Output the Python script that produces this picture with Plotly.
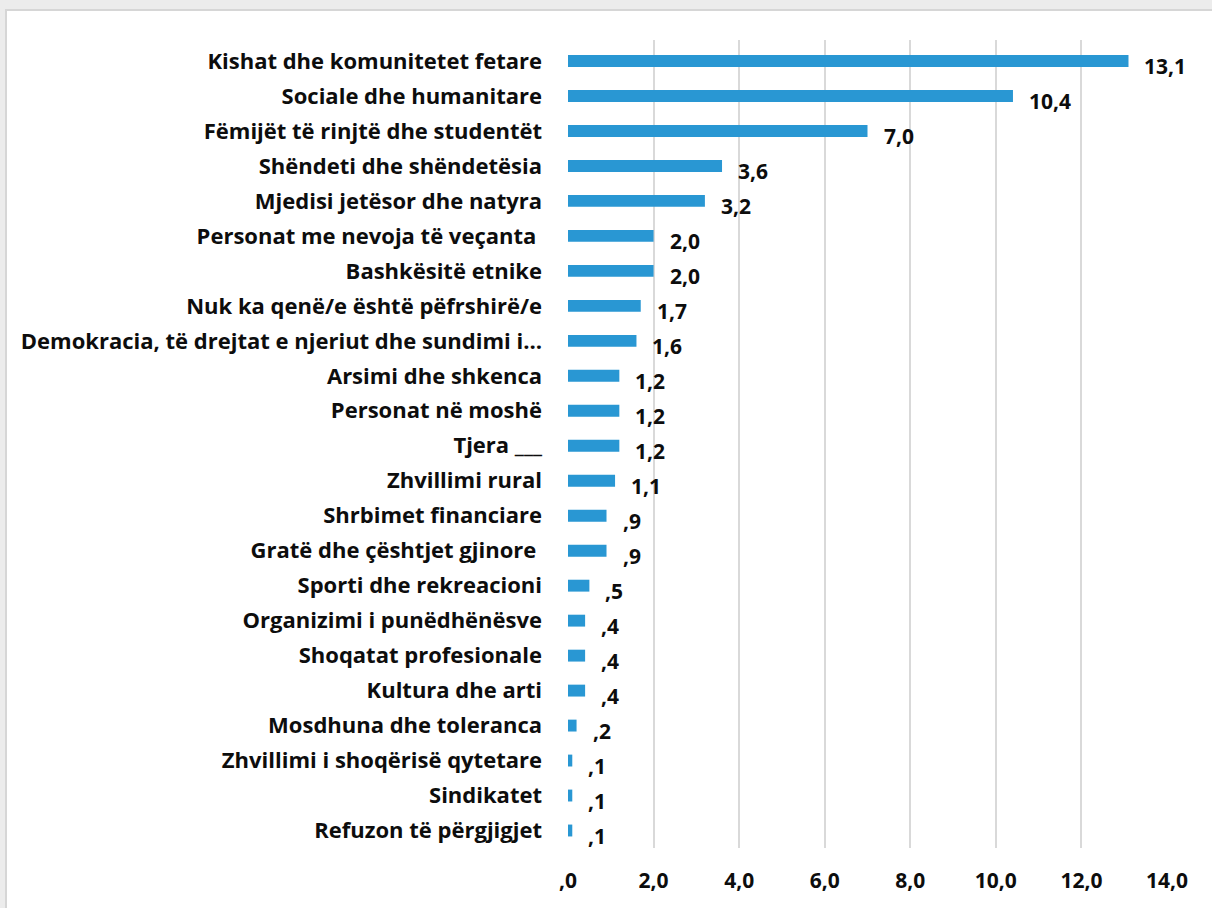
import plotly.graph_objects as go

categories = [
    "Kishat dhe komunitetet fetare",
    "Sociale dhe humanitare",
    "Fëmijët të rinjtë dhe studentët",
    "Shëndeti dhe shëndetësia",
    "Mjedisi jetësor dhe natyra",
    "Personat me nevoja të veçanta ",
    "Bashkësitë etnike",
    "Nuk ka qenë/e është pëfrshirë/e",
    "Demokracia, të drejtat e njeriut dhe sundimi i…",
    "Arsimi dhe shkenca",
    "Personat në moshë",
    "Tjera ___",
    "Zhvillimi rural",
    "Shrbimet financiare",
    "Gratë dhe çështjet gjinore ",
    "Sporti dhe rekreacioni",
    "Organizimi i punëdhënësve",
    "Shoqatat profesionale",
    "Kultura dhe arti",
    "Mosdhuna dhe toleranca",
    "Zhvillimi i shoqërisë qytetare",
    "Sindikatet",
    "Refuzon të përgjigjet",
]
values = [13.1, 10.4, 7.0, 3.6, 3.2, 2.0, 2.0, 1.7, 1.6, 1.2, 1.2, 1.2, 1.1,
          0.9, 0.9, 0.5, 0.4, 0.4, 0.4, 0.2, 0.1, 0.1, 0.1]
tick_values = [0, 2, 4, 6, 8, 10, 12, 14]
tick_labels = [",0", "2,0", "4,0", "6,0", "8,0", "10,0", "12,0", "14,0"]


def fmt(v):
    s = f"{v:.1f}".replace(".", ",")
    if s.startswith("0"):
        s = s[1:]
    return s


value_labels = [fmt(v) for v in values]

W, H = 1212, 908
ML, MR, MT, MB = 568, 45, 40, 60
PW, PH = W - ML - MR, H - MT - MB

FONT = "Open Sans"
BAR_COLOR = "#2997D3"
TEXT_COLOR = "#0d0d0d"

fig = go.Figure()
fig.add_trace(go.Bar(
    x=values, y=categories, orientation="h",
    marker=dict(color=BAR_COLOR, line=dict(width=0)),
    width=0.34,
    hoverinfo="x+y",
))

for c, v, t in zip(categories, values, value_labels):
    fig.add_annotation(
        x=v, y=c, xref="x", yref="y", text=t, showarrow=False,
        xanchor="left", yanchor="middle", xshift=14, yshift=-5,
        font=dict(family=FONT, size=21, color=TEXT_COLOR, weight="bold"),
    )


def px_to_paper_x(px):
    return (px - ML) / PW


def px_to_paper_y(py):
    return (H - MB - py) / PH


# white chart panel with light border on gray background
fig.add_shape(
    type="rect", xref="paper", yref="paper",
    x0=px_to_paper_x(6), x1=px_to_paper_x(W + 10),
    y0=px_to_paper_y(H + 10), y1=px_to_paper_y(10),
    fillcolor="white", line=dict(color="#d6d6d6", width=2), layer="below",
)

fig.update_layout(
    width=W, height=H,
    margin=dict(l=ML, r=MR, t=MT, b=MB, autoexpand=False),
    paper_bgcolor="#ececec",
    plot_bgcolor="rgba(0,0,0,0)",
    showlegend=False,
    font=dict(family=FONT, color=TEXT_COLOR),
    xaxis=dict(
        range=[0, 14], tickvals=tick_values, ticktext=tick_labels,
        showgrid=True, gridcolor="#d9d9d9", gridwidth=1.5,
        zeroline=False, showline=False, ticks="",
        tickfont=dict(family=FONT, size=21, color=TEXT_COLOR, weight="bold"),
        ticklabelstandoff=18, fixedrange=True, automargin=False,
    ),
    yaxis=dict(
        autorange="reversed", showgrid=False, zeroline=False,
        showline=False, ticks="",
        tickfont=dict(family=FONT, size=22, color=TEXT_COLOR, weight="bold"),
        ticklabelstandoff=25, fixedrange=True, automargin=False,
    ),
)

fig.write_html(
    "out.html",
    config={"displayModeBar": False},
    post_script="document.body.style.margin='0';document.body.style.background='#ececec';",
)
